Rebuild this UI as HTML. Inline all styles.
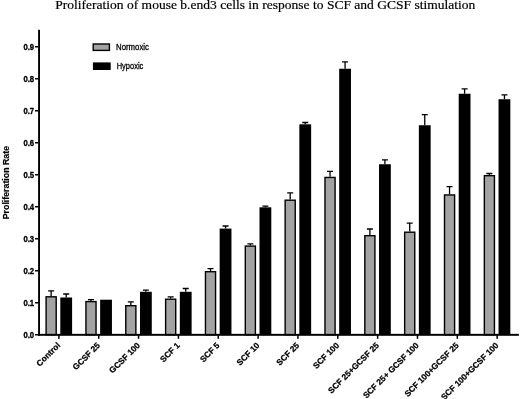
<!DOCTYPE html>
<html lang="en"><head><meta charset="utf-8"><title>Proliferation of mouse b.end3 cells</title>
<style>html,body{margin:0;padding:0;background:#fff;}body{width:520px;height:399px;overflow:hidden;}svg{display:block;will-change:transform;filter:blur(0.35px);}</style>
</head><body>
<svg width="520" height="399" viewBox="0 0 520 399">
<text x="55.2" y="9.4" font-family="'Liberation Serif', serif" font-size="13.5" textLength="420.2" lengthAdjust="spacingAndGlyphs" fill="#000" stroke="#000" stroke-width="0.2">Proliferation of mouse b.end3 cells in response to SCF and GCSF stimulation</text>
<path d="M51.15 296.10V290.90M48.15 290.90H54.15" stroke="#000" stroke-width="1.3" fill="none"/>
<path d="M66.20 297.50V294.00M63.20 294.00H69.20" stroke="#000" stroke-width="1.3" fill="none"/>
<rect x="46.10" y="296.80" width="10.10" height="37.95" fill="#a3a3a3" stroke="#000" stroke-width="1.4"/>
<rect x="60.30" y="297.50" width="11.80" height="37.25" fill="#000"/>
<path d="M90.99 300.90V299.70M87.99 299.70H93.99" stroke="#000" stroke-width="1.3" fill="none"/>
<rect x="85.94" y="301.60" width="10.10" height="33.15" fill="#a3a3a3" stroke="#000" stroke-width="1.4"/>
<rect x="100.14" y="299.70" width="11.80" height="35.05" fill="#000"/>
<path d="M130.83 305.00V301.90M127.83 301.90H133.83" stroke="#000" stroke-width="1.3" fill="none"/>
<path d="M145.88 291.80V290.20M142.88 290.20H148.88" stroke="#000" stroke-width="1.3" fill="none"/>
<rect x="125.78" y="305.70" width="10.10" height="29.05" fill="#a3a3a3" stroke="#000" stroke-width="1.4"/>
<rect x="139.98" y="291.80" width="11.80" height="42.95" fill="#000"/>
<path d="M170.67 298.50V296.90M167.67 296.90H173.67" stroke="#000" stroke-width="1.3" fill="none"/>
<path d="M185.72 291.80V288.50M182.72 288.50H188.72" stroke="#000" stroke-width="1.3" fill="none"/>
<rect x="165.62" y="299.20" width="10.10" height="35.55" fill="#a3a3a3" stroke="#000" stroke-width="1.4"/>
<rect x="179.82" y="291.80" width="11.80" height="42.95" fill="#000"/>
<path d="M210.51 271.00V268.70M207.51 268.70H213.51" stroke="#000" stroke-width="1.3" fill="none"/>
<path d="M225.56 228.60V226.00M222.56 226.00H228.56" stroke="#000" stroke-width="1.3" fill="none"/>
<rect x="205.46" y="271.70" width="10.10" height="63.05" fill="#a3a3a3" stroke="#000" stroke-width="1.4"/>
<rect x="219.66" y="228.60" width="11.80" height="106.15" fill="#000"/>
<path d="M250.35 245.40V243.80M247.35 243.80H253.35" stroke="#000" stroke-width="1.3" fill="none"/>
<path d="M265.40 207.30V206.10M262.40 206.10H268.40" stroke="#000" stroke-width="1.3" fill="none"/>
<rect x="245.30" y="246.10" width="10.10" height="88.65" fill="#a3a3a3" stroke="#000" stroke-width="1.4"/>
<rect x="259.50" y="207.30" width="11.80" height="127.45" fill="#000"/>
<path d="M290.19 199.50V192.90M287.19 192.90H293.19" stroke="#000" stroke-width="1.3" fill="none"/>
<path d="M305.24 124.30V122.50M302.24 122.50H308.24" stroke="#000" stroke-width="1.3" fill="none"/>
<rect x="285.14" y="200.20" width="10.10" height="134.55" fill="#a3a3a3" stroke="#000" stroke-width="1.4"/>
<rect x="299.34" y="124.30" width="11.80" height="210.45" fill="#000"/>
<path d="M330.03 176.75V171.40M327.03 171.40H333.03" stroke="#000" stroke-width="1.3" fill="none"/>
<path d="M345.08 68.75V61.80M342.08 61.80H348.08" stroke="#000" stroke-width="1.3" fill="none"/>
<rect x="324.98" y="177.45" width="10.10" height="157.30" fill="#a3a3a3" stroke="#000" stroke-width="1.4"/>
<rect x="339.18" y="68.75" width="11.80" height="266.00" fill="#000"/>
<path d="M369.87 235.00V229.00M366.87 229.00H372.87" stroke="#000" stroke-width="1.3" fill="none"/>
<path d="M384.92 164.25V159.90M381.92 159.90H387.92" stroke="#000" stroke-width="1.3" fill="none"/>
<rect x="364.82" y="235.70" width="10.10" height="99.05" fill="#a3a3a3" stroke="#000" stroke-width="1.4"/>
<rect x="379.02" y="164.25" width="11.80" height="170.50" fill="#000"/>
<path d="M409.71 231.50V223.10M406.71 223.10H412.71" stroke="#000" stroke-width="1.3" fill="none"/>
<path d="M424.76 125.25V114.70M421.76 114.70H427.76" stroke="#000" stroke-width="1.3" fill="none"/>
<rect x="404.66" y="232.20" width="10.10" height="102.55" fill="#a3a3a3" stroke="#000" stroke-width="1.4"/>
<rect x="418.86" y="125.25" width="11.80" height="209.50" fill="#000"/>
<path d="M449.55 194.25V186.70M446.55 186.70H452.55" stroke="#000" stroke-width="1.3" fill="none"/>
<path d="M464.60 93.75V88.90M461.60 88.90H467.60" stroke="#000" stroke-width="1.3" fill="none"/>
<rect x="444.50" y="194.95" width="10.10" height="139.80" fill="#a3a3a3" stroke="#000" stroke-width="1.4"/>
<rect x="458.70" y="93.75" width="11.80" height="241.00" fill="#000"/>
<path d="M489.39 175.00V173.50M486.39 173.50H492.39" stroke="#000" stroke-width="1.3" fill="none"/>
<path d="M504.44 99.25V94.90M501.44 94.90H507.44" stroke="#000" stroke-width="1.3" fill="none"/>
<rect x="484.34" y="175.70" width="10.10" height="159.05" fill="#a3a3a3" stroke="#000" stroke-width="1.4"/>
<rect x="498.54" y="99.25" width="11.80" height="235.50" fill="#000"/>
<rect x="38.1" y="29.8" width="1.9" height="306" fill="#000"/>
<rect x="38.1" y="333.85" width="480.8" height="1.95" fill="#000"/>
<rect x="35" y="334.00" width="3.5" height="1.5" fill="#000"/>
<text x="23.4" y="337.75" font-family="'Liberation Sans', sans-serif" font-weight="bold" font-size="8.5" textLength="10.7" lengthAdjust="spacingAndGlyphs" fill="#000" stroke="#000" stroke-width="0.35">0.0</text>
<rect x="35" y="302.00" width="3.5" height="1.5" fill="#000"/>
<text x="23.4" y="305.75" font-family="'Liberation Sans', sans-serif" font-weight="bold" font-size="8.5" textLength="10.7" lengthAdjust="spacingAndGlyphs" fill="#000" stroke="#000" stroke-width="0.35">0.1</text>
<rect x="35" y="270.00" width="3.5" height="1.5" fill="#000"/>
<text x="23.4" y="273.75" font-family="'Liberation Sans', sans-serif" font-weight="bold" font-size="8.5" textLength="10.7" lengthAdjust="spacingAndGlyphs" fill="#000" stroke="#000" stroke-width="0.35">0.2</text>
<rect x="35" y="238.00" width="3.5" height="1.5" fill="#000"/>
<text x="23.4" y="241.75" font-family="'Liberation Sans', sans-serif" font-weight="bold" font-size="8.5" textLength="10.7" lengthAdjust="spacingAndGlyphs" fill="#000" stroke="#000" stroke-width="0.35">0.3</text>
<rect x="35" y="206.00" width="3.5" height="1.5" fill="#000"/>
<text x="23.4" y="209.75" font-family="'Liberation Sans', sans-serif" font-weight="bold" font-size="8.5" textLength="10.7" lengthAdjust="spacingAndGlyphs" fill="#000" stroke="#000" stroke-width="0.35">0.4</text>
<rect x="35" y="174.00" width="3.5" height="1.5" fill="#000"/>
<text x="23.4" y="177.75" font-family="'Liberation Sans', sans-serif" font-weight="bold" font-size="8.5" textLength="10.7" lengthAdjust="spacingAndGlyphs" fill="#000" stroke="#000" stroke-width="0.35">0.5</text>
<rect x="35" y="142.00" width="3.5" height="1.5" fill="#000"/>
<text x="23.4" y="145.75" font-family="'Liberation Sans', sans-serif" font-weight="bold" font-size="8.5" textLength="10.7" lengthAdjust="spacingAndGlyphs" fill="#000" stroke="#000" stroke-width="0.35">0.6</text>
<rect x="35" y="110.00" width="3.5" height="1.5" fill="#000"/>
<text x="23.4" y="113.75" font-family="'Liberation Sans', sans-serif" font-weight="bold" font-size="8.5" textLength="10.7" lengthAdjust="spacingAndGlyphs" fill="#000" stroke="#000" stroke-width="0.35">0.7</text>
<rect x="35" y="78.00" width="3.5" height="1.5" fill="#000"/>
<text x="23.4" y="81.75" font-family="'Liberation Sans', sans-serif" font-weight="bold" font-size="8.5" textLength="10.7" lengthAdjust="spacingAndGlyphs" fill="#000" stroke="#000" stroke-width="0.35">0.8</text>
<rect x="35" y="46.00" width="3.5" height="1.5" fill="#000"/>
<text x="23.4" y="49.75" font-family="'Liberation Sans', sans-serif" font-weight="bold" font-size="8.5" textLength="10.7" lengthAdjust="spacingAndGlyphs" fill="#000" stroke="#000" stroke-width="0.35">0.9</text>
<rect x="58.15" y="335" width="1.5" height="3.8" fill="#000"/>
<text transform="translate(60.80 345.9) rotate(-45)" text-anchor="end" font-family="'Liberation Sans', sans-serif" font-weight="bold" font-size="8.35" fill="#000" stroke="#000" stroke-width="0.25">Control</text>
<rect x="97.99" y="335" width="1.5" height="3.8" fill="#000"/>
<text transform="translate(100.64 345.9) rotate(-45)" text-anchor="end" font-family="'Liberation Sans', sans-serif" font-weight="bold" font-size="8.35" fill="#000" stroke="#000" stroke-width="0.25">GCSF 25</text>
<rect x="137.83" y="335" width="1.5" height="3.8" fill="#000"/>
<text transform="translate(140.48 345.9) rotate(-45)" text-anchor="end" font-family="'Liberation Sans', sans-serif" font-weight="bold" font-size="8.35" fill="#000" stroke="#000" stroke-width="0.25">GCSF 100</text>
<rect x="177.67" y="335" width="1.5" height="3.8" fill="#000"/>
<text transform="translate(180.32 345.9) rotate(-45)" text-anchor="end" font-family="'Liberation Sans', sans-serif" font-weight="bold" font-size="8.35" fill="#000" stroke="#000" stroke-width="0.25">SCF 1</text>
<rect x="217.51" y="335" width="1.5" height="3.8" fill="#000"/>
<text transform="translate(220.16 345.9) rotate(-45)" text-anchor="end" font-family="'Liberation Sans', sans-serif" font-weight="bold" font-size="8.35" fill="#000" stroke="#000" stroke-width="0.25">SCF 5</text>
<rect x="257.35" y="335" width="1.5" height="3.8" fill="#000"/>
<text transform="translate(260.00 345.9) rotate(-45)" text-anchor="end" font-family="'Liberation Sans', sans-serif" font-weight="bold" font-size="8.35" fill="#000" stroke="#000" stroke-width="0.25">SCF 10</text>
<rect x="297.19" y="335" width="1.5" height="3.8" fill="#000"/>
<text transform="translate(299.84 345.9) rotate(-45)" text-anchor="end" font-family="'Liberation Sans', sans-serif" font-weight="bold" font-size="8.35" fill="#000" stroke="#000" stroke-width="0.25">SCF 25</text>
<rect x="337.03" y="335" width="1.5" height="3.8" fill="#000"/>
<text transform="translate(339.68 345.9) rotate(-45)" text-anchor="end" font-family="'Liberation Sans', sans-serif" font-weight="bold" font-size="8.35" fill="#000" stroke="#000" stroke-width="0.25">SCF 100</text>
<rect x="376.87" y="335" width="1.5" height="3.8" fill="#000"/>
<text transform="translate(379.52 345.9) rotate(-45)" text-anchor="end" font-family="'Liberation Sans', sans-serif" font-weight="bold" font-size="8.35" fill="#000" stroke="#000" stroke-width="0.25">SCF 25+GCSF 25</text>
<rect x="416.71" y="335" width="1.5" height="3.8" fill="#000"/>
<text transform="translate(419.36 345.9) rotate(-45)" text-anchor="end" font-family="'Liberation Sans', sans-serif" font-weight="bold" font-size="8.35" fill="#000" stroke="#000" stroke-width="0.25">SCF 25+ GCSF 100</text>
<rect x="456.55" y="335" width="1.5" height="3.8" fill="#000"/>
<text transform="translate(459.20 345.9) rotate(-45)" text-anchor="end" font-family="'Liberation Sans', sans-serif" font-weight="bold" font-size="8.35" fill="#000" stroke="#000" stroke-width="0.25">SCF 100+GCSF 25</text>
<rect x="496.39" y="335" width="1.5" height="3.8" fill="#000"/>
<text transform="translate(499.04 345.9) rotate(-45)" text-anchor="end" font-family="'Liberation Sans', sans-serif" font-weight="bold" font-size="8.35" fill="#000" stroke="#000" stroke-width="0.25">SCF 100+GCSF 100</text>
<text transform="translate(9.0 182.6) rotate(-90)" text-anchor="middle" font-family="'Liberation Sans', sans-serif" font-weight="bold" font-size="9.2" textLength="73.3" lengthAdjust="spacingAndGlyphs" fill="#000" stroke="#000" stroke-width="0.2">Proliferation Rate</text>
<rect x="93.2" y="44" width="16.2" height="6.4" fill="#a3a3a3" stroke="#000" stroke-width="1.4"/>
<rect x="92.9" y="62.4" width="17.8" height="7.6" fill="#000"/>
<text x="116" y="50.3" font-family="'Liberation Sans', sans-serif" font-size="8.9" textLength="33" lengthAdjust="spacingAndGlyphs" fill="#000" stroke="#000" stroke-width="0.3">Normoxic</text>
<text x="116.7" y="69.4" font-family="'Liberation Sans', sans-serif" font-size="8.9" textLength="26.6" lengthAdjust="spacingAndGlyphs" fill="#000" stroke="#000" stroke-width="0.3">Hypoxic</text>
</svg>
</body></html>
